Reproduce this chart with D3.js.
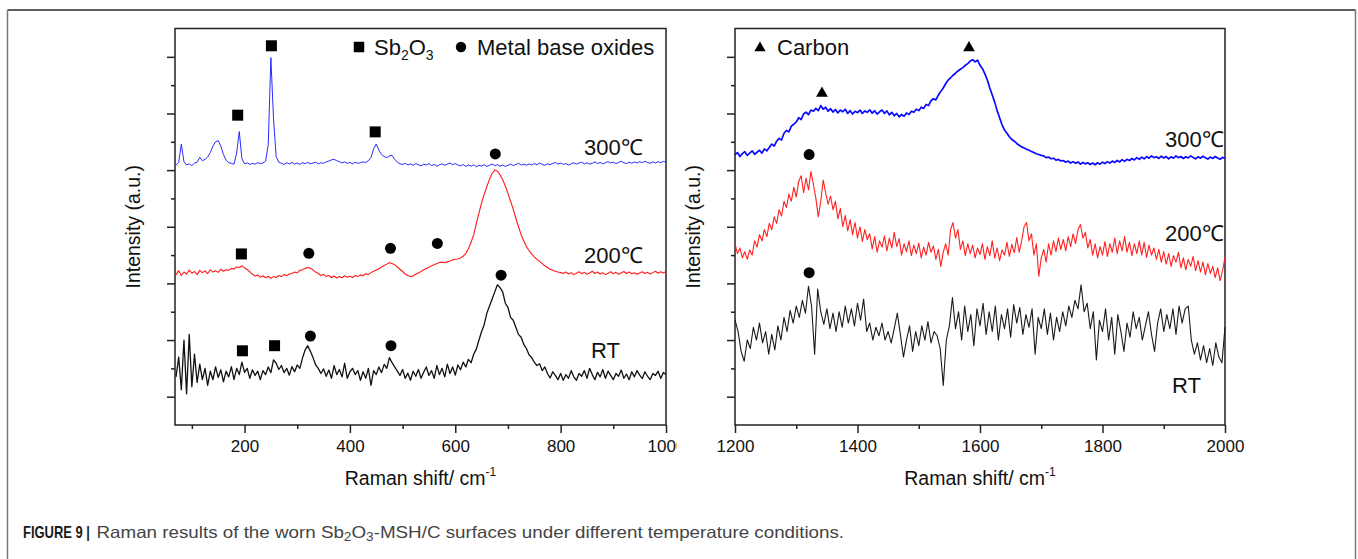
<!DOCTYPE html>
<html>
<head>
<meta charset="utf-8">
<script src="https://cdn.jsdelivr.net/npm/d3@7"></script>
<style>
body { margin: 0; background: #fff; }
text { font-family: "Liberation Sans", Arial, sans-serif; }
</style>
</head>
<body>
<div id="chart"></div>
<script>
// left panel: 70 - 1000 cm-1, evenly spaced samples
const leftRange = [70, 1000]
const left300 = [918,927,992,930,918,922,916,925,928,945,933,938,946,962,985,1000,1004,985,955,935,926,924,921,960,1036,940,922,926,920,924,921,926,923,925,932,990,1297,1080,948,928,924,920,926,922,927,921,925,920,926,923,927,922,925,928,922,926,924,929,932,936,938,933,930,925,929,924,927,922,928,924,926,929,927,933,945,975,992,970,955,948,944,950,952,938,928,922,920,
924,918,922,917,923,919,915,921,918,923,916,920,914,919,922,917,921,925,919,923,918,915,920,913,918,914,919,912,917,914,919,913,917,921,916,919,914,918,913,917,921,916,920,924,918,921,917,922,918,923,919,925,920,917,922,919,924,927,921,925,920,923,918,922,926,921,925,928,922,926,921,924,929,923,927,922,926,930,925,928,923,927,931,926,923,928,924,929,925,930,926,931,927,924,929,925,930,926,931,928]
const left200 = [530,545,528,540,533,547,536,542,531,546,538,544,535,548,540,545,539,550,543,548,546,553,551,558,556,562,555,549,541,532,526,530,522,527,520,525,518,524,521,528,524,531,527,533,535,540,537,546,548,553,556,553,548,540,535,528,532,524,528,521,526,519,524,520,527,522,525,521,528,524,530,527,534,531,538,543,547,552,558,563,568,573,570,566,558,550,542,533,528,524,526,532,537,542,548,553,557,562,566,570,574,575,573,576,579,583,585,586,590,596,606,622,645,672,712,748,785,815,842,868,889,900,896,884,866,844,818,790,762,730,700,672,650,630,616,604,594,585,578,570,562,556,550,546,543,540,538,535,
540,533,538,531,536,541,534,539,532,537,543,535,540,533,538,531,536,541,534,539,532,537,542,535,540,534,538,532,537,541,535,539,533,538,543,536,541,537,542]
const leftRT = [170,240,125,300,110,320,135,250,150,215,160,200,140,190,160,205,168,195,152,190,170,206,160,200,178,222,186,200,165,195,175,190,160,192,178,205,185,230,218,196,210,185,200,176,206,188,212,200,236,265,280,260,238,212,200,182,198,172,194,165,210,178,196,170,218,165,188,200,178,192,158,188,165,200,140,192,178,205,185,214,200,238,220,205,190,175,196,165,183,158,190,172,196,165,186,205,175,192,165,210,178,200,170,215,182,205,176,212,195,222,205,232,220,250,268,300,330,355,395,420,445,470,495,485,470,430,415,380,370,345,320,310,285,270,248,238,222,210,216,192,205,182,166,188,175,160,182,158,178,165,192,170,158,182,172,192,165,200,178,160,186,170,196,165,190,175,160,182,172,194,165,180,160,188,170,192,176,164,188,172,160,182,175,190,165,185,178]

// right panel: 1200 - 2000 cm-1
const rightRange = [1200, 2000]
const right300 = [955,962,948,958,965,952,960,968,956,963,970,960,975,968,980,992,985,1002,1012,1006,1030,1040,1035,1055,1062,1070,1085,1078,1098,1105,1096,1112,1108,1118,1110,1128,1115,1122,1108,1117,1105,1114,1102,1112,1106,1115,1100,1110,1098,1108,1103,1112,1100,1109,1104,1113,1101,1110,1098,1106,1112,1100,1109,1095,1104,1092,1100,1088,1097,1090,1102,1096,1108,1104,1115,1110,1122,1118,1132,1128,1145,1152,1148,1165,1178,1190,1205,1218,1226,1235,1242,1250,1256,1262,1270,1276,1285,1290,1282,1288,1270,1258,1240,1218,1190,1165,1140,1110,1085,1060,1042,1030,1018,1008,1002,994,988,982,978,974,970,966,962,958,955,952,950,944,946,940,942,935,938,932,934,928,932,925,930,924,929,921,927,922,926,920,925,919,926,921,928,923,930,925,932,927,934,929,937,931,938,934,941,936,944,938,946,940,948,942,950,944,947,941,949,943,948,940,947,942,950,944,948,941,947,943,950,945,940,947,942,949,944,939,946,941,948,943,938,945,941]
const right200 = [640,605,625,590,612,585,618,600,650,628,672,650,690,665,712,690,735,712,760,738,790,768,815,790,840,805,860,880,820,872,830,895,850,800,735,790,865,820,780,808,760,790,728,765,700,740,685,725,672,715,660,700,648,690,655,675,622,665,610,650,628,668,615,660,625,680,630,658,600,640,612,650,598,635,605,642,590,628,600,645,610,632,585,620,560,610,640,600,690,715,660,690,620,650,598,640,605,635,590,625,602,640,585,630,598,650,590,625,580,618,600,645,595,638,608,662,610,650,700,715,650,675,600,640,525,590,620,575,640,600,650,612,660,620,655,615,665,630,675,640,690,708,660,680,625,655,600,640,590,630,600,648,595,640,610,660,605,650,615,665,610,645,598,640,605,650,600,645,592,635,600,625,585,620,575,612,568,605,560,598,575,610,555,590,548,585,560,595,545,580,540,575,530,570,535,560,520,555,510,545,590]
const rightRT = [371,330,260,225,300,270,345,300,360,290,330,250,320,265,350,300,380,330,405,360,420,380,440,395,490,420,250,480,400,355,410,340,395,330,400,345,420,360,410,350,430,370,445,330,360,300,345,315,360,300,330,290,340,395,320,240,300,350,260,330,280,350,300,365,290,330,315,270,140,300,350,450,340,400,300,420,330,390,280,410,350,430,320,400,330,420,300,390,340,410,310,425,360,415,320,390,345,410,250,380,340,410,320,395,300,380,330,400,350,420,380,440,410,495,400,430,340,400,230,370,330,410,300,380,250,390,330,260,360,310,400,340,380,300,350,400,320,260,360,410,330,390,340,410,320,420,360,410,420,300,250,290,230,280,220,270,210,290,240,220,345]

// peak markers [raman shift, intensity]
const leftSquares = [[251, 1339], [187, 1094], [448, 1035], [194, 604], [196, 262], [257, 280]]
const leftCircles = [[676, 957], [322, 606], [477, 624], [566, 641], [687, 529], [325, 314], [478, 280]]
const rightCircles = [[1321, 955], [1321, 538]]
const rightTriangles = [[1342, 1171], [1582, 1332]]

const yTop = 28.5, yBottom = 425

const svg = d3.select("#chart")
	.append("svg")
	.attr("width", 1358)
	.attr("height", 559)

// the left picture is cut just after its last tick label
svg.append("clipPath").attr("id", "cutLeft")
	.append("rect").attr("x", 0).attr("y", 0).attr("width", 677).attr("height", 559)

// outer frame
svg.append("line").attr("x1", 7.5).attr("x2", 1355.5).attr("y1", 10).attr("y2", 10)
	.attr("stroke", "#2a2a2a").attr("stroke-width", 1.5)
svg.append("line").attr("x1", 7.5).attr("x2", 7.5).attr("y1", 10).attr("y2", 559)
	.attr("stroke", "#777").attr("stroke-width", 1.5)
svg.append("line").attr("x1", 1355.5).attr("x2", 1355.5).attr("y1", 10).attr("y2", 559)
	.attr("stroke", "#777").attr("stroke-width", 1.5)

const y = d3.scaleLinear().domain([0, 1400]).range([yBottom, yTop])

function spectrum(g, x, range, values, color, width) {
	const step = (range[1] - range[0]) / (values.length - 1)
	const line = d3.line()
		.x((d, i) => x(range[0] + i * step))
		.y((d) => y(d))
	g.append("path")
		.datum(values)
		.attr("d", line)
		.attr("fill", "none")
		.attr("stroke", color)
		.attr("stroke-width", width)
		.attr("stroke-linejoin", "round")
}

function markers(g, x, data, type, size) {
	g.selectAll(null)
		.data(data)
		.enter()
		.append("path")
		.attr("d", d3.symbol().type(type).size(size))
		.attr("transform", (d) => `translate(${x(d[0])},${y(d[1])})`)
		.attr("fill", "#000")
}

function panel(left, right, domain, major, minor, titleX) {
	const x = d3.scaleLinear().domain(domain).range([left, right])
	const g = svg.append("g")

	// x axis, major + minor ticks
	const xa = g.append("g").attr("transform", `translate(0,${yBottom})`)
		.call(d3.axisBottom(x).tickValues(major).tickSize(8).tickSizeOuter(0).tickFormat(d3.format("d")))
	xa.selectAll("text").attr("y", 15).style("font-size", "17px").attr("fill", "#111")
		.style("font-family", '"Liberation Sans", Arial, sans-serif')
	g.append("g").attr("transform", `translate(0,${yBottom})`)
		.call(d3.axisBottom(x).tickValues(minor).tickSize(4).tickSizeOuter(0).tickFormat(""))

	// y axis, no labels
	g.append("g").attr("transform", `translate(${left},0)`)
		.call(d3.axisLeft(y).tickValues([100, 300, 500, 700, 900, 1100, 1300]).tickSize(8).tickSizeOuter(0).tickFormat(""))
	g.append("g").attr("transform", `translate(${left},0)`)
		.call(d3.axisLeft(y).tickValues([200, 400, 600, 800, 1000, 1200]).tickSize(4).tickSizeOuter(0).tickFormat(""))
	g.selectAll(".domain").remove()
	g.selectAll(".tick line").attr("stroke", "#222").attr("stroke-width", 1.5)

	g.append("rect")
		.attr("x", left).attr("y", yTop)
		.attr("width", right - left).attr("height", yBottom - yTop)
		.attr("fill", "none").attr("stroke", "#222").attr("stroke-width", 1.5)

	// axis titles
	const t = g.append("text").attr("x", (left + right) / 2).attr("y", 485)
		.attr("text-anchor", "middle").style("font-size", "19.5px").attr("fill", "#111")
	t.append("tspan").text("Raman shift/ cm")
	t.append("tspan").text("-1").style("font-size", "12px").attr("dy", -9)

	g.append("text")
		.attr("transform", `translate(${titleX},${(yTop + yBottom) / 2}) rotate(-90)`)
		.attr("text-anchor", "middle")
		.style("font-size", "19.5px").attr("fill", "#111")
		.text("Intensity (a.u.)")
	return { g: g, x: x }
}

function label(g, px, py, txt) {
	g.append("text").attr("x", px).attr("y", py).style("font-size", "22px").attr("fill", "#111").text(txt)
}

// ---- left panel
const L = panel(175, 666, [68, 1000], [200, 400, 600, 800, 1000], [100, 300, 500, 700, 900], 140)
L.g.attr("clip-path", "url(#cutLeft)")
spectrum(L.g, L.x, leftRange, leftRT, "#111", 1.3)
spectrum(L.g, L.x, leftRange, left200, "#ff1a1a", 1.1)
spectrum(L.g, L.x, leftRange, left300, "#2a2aff", 1)
markers(L.g, L.x, leftSquares, d3.symbolSquare, 121)
markers(L.g, L.x, leftCircles, d3.symbolCircle, 95)
label(L.g, 584, 155, "300℃")
label(L.g, 584, 263, "200℃")
label(L.g, 591, 358, "RT")

// legend
L.g.append("path").attr("d", d3.symbol().type(d3.symbolSquare).size(110)).attr("transform", "translate(359,47)")
const lg = L.g.append("text").attr("x", 374).attr("y", 55).style("font-size", "22px").attr("fill", "#111")
lg.append("tspan").text("Sb")
lg.append("tspan").text("2").style("font-size", "14px").attr("dy", 5)
lg.append("tspan").text("O").attr("dy", -5)
lg.append("tspan").text("3").style("font-size", "14px").attr("dy", 5)
L.g.append("path").attr("d", d3.symbol().type(d3.symbolCircle).size(85)).attr("transform", "translate(461,47)")
L.g.append("text").attr("x", 477).attr("y", 55).style("font-size", "22px").attr("fill", "#111").text("Metal base oxides")

// ---- right panel
const R = panel(735, 1225, rightRange, [1200, 1400, 1600, 1800, 2000], [1300, 1500, 1700, 1900], 700)
spectrum(R.g, R.x, rightRange, rightRT, "#1a1a1a", 1.1)
spectrum(R.g, R.x, rightRange, right200, "#ff2020", 1.1)
spectrum(R.g, R.x, rightRange, right300, "#0a0aff", 1.7)
markers(R.g, R.x, rightCircles, d3.symbolCircle, 95)
markers(R.g, R.x, rightTriangles, d3.symbolTriangle, 60)
label(R.g, 1165, 147, "300℃")
label(R.g, 1165, 241, "200℃")
label(R.g, 1172, 393, "RT")

R.g.append("path").attr("d", d3.symbol().type(d3.symbolTriangle).size(55)).attr("transform", "translate(760,48)")
R.g.append("text").attr("x", 777).attr("y", 55).style("font-size", "22px").attr("fill", "#111").text("Carbon")

// caption: narrow face, squeezed horizontally to the printed widths
function squeeze(sel, x0, width) {
	const w = sel.node().getComputedTextLength()
	sel.attr("transform", `translate(${x0},538) scale(${width / w},1)`)
}
const head = svg.append("text").attr("x", 0).attr("y", 0)
	.style("font-size", "16.5px").attr("font-weight", "bold").attr("fill", "#1a1a1a")
	.text("FIGURE 9 |")
squeeze(head, 23, 67)
const cap = svg.append("text").attr("x", 0).attr("y", 0)
	.style("font-size", "16.5px").attr("fill", "#444")
cap.append("tspan").text("Raman results of the worn Sb")
cap.append("tspan").text("2").style("font-size", "12px").attr("dy", 3)
cap.append("tspan").text("O").attr("dy", -3)
cap.append("tspan").text("3").style("font-size", "12px").attr("dy", 3)
cap.append("tspan").text("-MSH/C surfaces under different temperature conditions.").attr("dy", -3)
squeeze(cap, 96.5, 748)
</script>
</body>
</html>
